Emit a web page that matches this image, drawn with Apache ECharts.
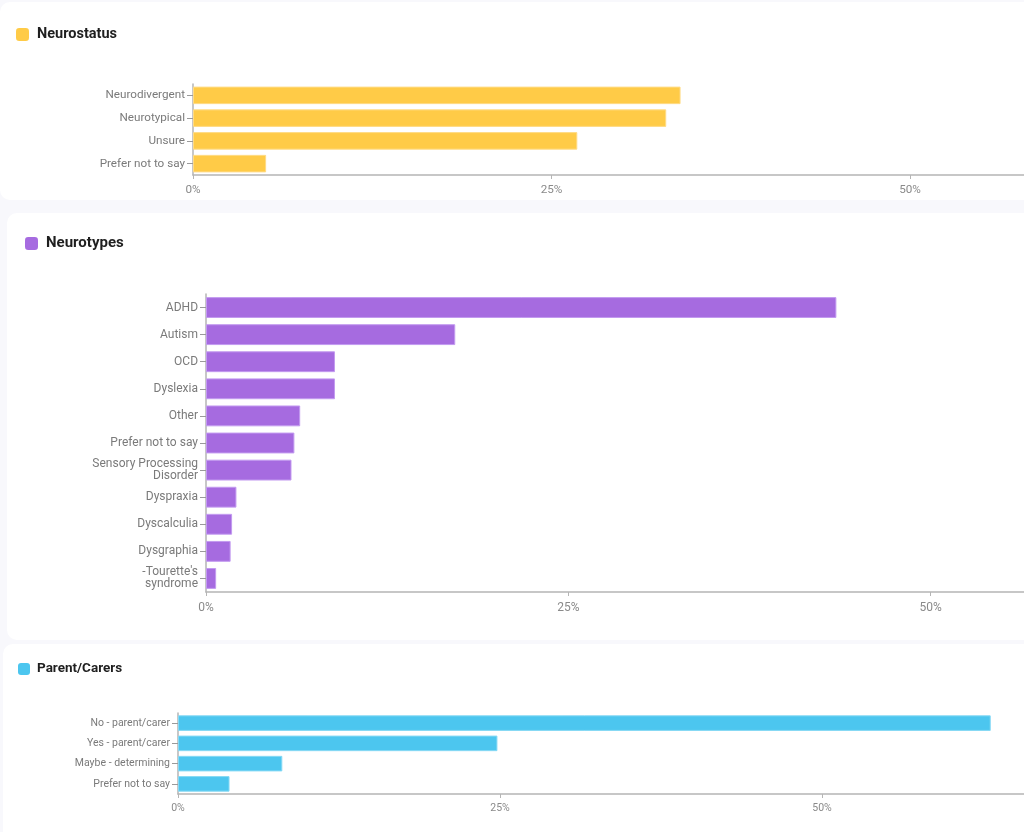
<!DOCTYPE html>
<html>
<head>
<meta charset="utf-8">
<script src="https://cdn.jsdelivr.net/npm/echarts@6/dist/echarts.min.js"></script>
<style>
  html, body { margin: 0; padding: 0; width: 1024px; height: 832px; overflow: hidden; background: #f8f8fc; }
  .card { position: absolute; background: #ffffff; border-radius: 10px; }
  #c1 { left: 0; top: 2px; width: 1300px; height: 198px; }
  #c2 { left: 7px; top: 213px; width: 1300px; height: 427px; }
  #c3 { left: 3px; top: 644px; width: 1300px; height: 200px; }
</style>
</head>
<body>
<div class="card" id="c1"></div>
<div class="card" id="c2"></div>
<div class="card" id="c3"></div>
<script>
// Neurostatus
const statusCats = ['Neurodivergent', 'Neurotypical', 'Unsure', 'Prefer not to say'];
const statusVals = [34.0, 33.0, 26.8, 5.1];

// Neurotypes
const typeCats = ['ADHD', 'Autism', 'OCD', 'Dyslexia', 'Other', 'Prefer not to say',
  'Sensory Processing\nDisorder', 'Dyspraxia', 'Dyscalculia', 'Dysgraphia', "-Tourette's\nsyndrome"];
const typeVals = [43.5, 17.2, 8.9, 8.9, 6.5, 6.1, 5.9, 2.1, 1.8, 1.7, 0.7];

// Parent/Carers
const parentCats = ['No - parent/carer', 'Yes - parent/carer', 'Maybe - determining', 'Prefer not to say'];
const parentVals = [63.1, 24.8, 8.1, 4.0];

const xTicks = [0, 25, 50, 75];

const font = 'Roboto, sans-serif';

function build(o) {
  return {
    animation: false,
    legend: {
      left: o.legendLeft, top: o.legendTop, padding: 0,
      icon: 'roundRect', itemWidth: o.iconSize, itemHeight: o.iconSize, itemGap: 8,
      selectedMode: false,
      itemStyle: { borderWidth: 0 },
      textStyle: { fontFamily: font, fontWeight: 'bold', fontSize: o.titleSize, color: '#1f1f1f', padding: [0, 0, 0, o.textPad] },
      data: [o.name]
    },
    grid: { left: o.left, top: o.top, height: o.height, width: o.pxPer * xTicks[xTicks.length - 1] },
    xAxis: {
      type: 'value', min: xTicks[0], max: xTicks[xTicks.length - 1], interval: 25,
      axisLine: { show: true, lineStyle: { color: '#b5b5b5', width: 1.5 } },
      axisTick: { show: true, length: 4, lineStyle: { color: '#b5b5b5' } },
      splitLine: { show: false },
      axisLabel: { formatter: '{value}%', color: '#8a8a8a', fontSize: o.fontSize, fontFamily: font, margin: o.xMargin }
    },
    yAxis: {
      type: 'category', inverse: true, data: o.cats,
      axisLine: { show: true, lineStyle: { color: '#b5b5b5', width: 1.5 } },
      axisTick: { show: true, length: 6, alignWithLabel: true, lineStyle: { color: '#9a9a9a' } },
      axisLabel: { color: '#7a7a7a', fontSize: o.fontSize, fontFamily: font, margin: 8, lineHeight: o.fontSize },
    },
    series: [{
      name: o.name, type: 'bar', data: o.vals, barCategoryGap: '23%',
      itemStyle: { color: o.color, borderColor: o.border, borderWidth: 1 }
    }]
  };
}

echarts.init(document.getElementById('c1')).setOption(build({
  name: 'Neurostatus', cats: statusCats, vals: statusVals,
  color: '#ffcb47', border: '#ffdb85',
  legendLeft: 16, legendTop: 25, iconSize: 13, titleSize: 14.5, textPad: 3,
  left: 193, top: 82, height: 91, pxPer: 14.34, fontSize: 11.7, xMargin: 9
}));

echarts.init(document.getElementById('c2')).setOption(build({
  name: 'Neurotypes', cats: typeCats, vals: typeVals,
  color: '#a66be0', border: '#c39bf0',
  legendLeft: 18, legendTop: 23, iconSize: 13, titleSize: 15, textPad: 3,
  left: 199, top: 81, height: 298, pxPer: 14.66, fontSize: 12, xMargin: 10
}));

echarts.init(document.getElementById('c3')).setOption(build({
  name: 'Parent/Carers', cats: parentCats, vals: parentVals,
  color: '#4cc6ef', border: '#86d9f5',
  legendLeft: 15, legendTop: 18, iconSize: 12, titleSize: 13.5, textPad: 2,
  left: 175, top: 69, height: 81, pxPer: 12.88, fontSize: 10.5, xMargin: 9
}));
</script>
</body>
</html>
